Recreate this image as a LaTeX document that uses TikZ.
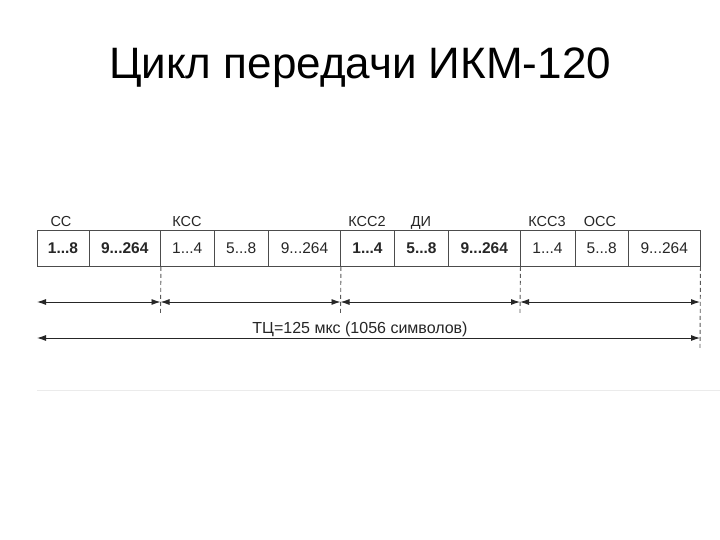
\documentclass[tikz,border=0pt]{standalone}
\usepackage{fontspec}
\setmainfont{Liberation Sans}
\usetikzlibrary{arrows.meta}
\begin{document}
\begin{tikzpicture}[x=1pt,y=-1pt,
  cell/.style={draw=black!70, line width=0.9pt, minimum height=36pt, inner sep=0pt, font=\fontsize{15.5}{17}\selectfont, text=black!85},
  lbl/.style={font=\fontsize{14.5}{16}\selectfont, text=black!85, inner sep=0pt, anchor=base},
  guide/.style={draw=black!65, dashed, dash pattern=on 4pt off 3pt, line width=0.9pt},
  span/.style={draw=black!85, line width=0.9pt, {Latex[length=9pt,width=6pt]}-{Latex[length=9pt,width=6pt]}},
  title/.style={font=\fontsize{44}{50}\selectfont, inner sep=0pt, anchor=base}]
\useasboundingbox (0,0) rectangle (720,540);
\fill[white] (0,0) rectangle (720,540);

\node[title] (t) at (360,79) {Цикл передачи ИКМ-120};

% cells (y from 230.5 to 266.5, centre 248.5)
\node[cell, minimum width=52pt]   (c1)  at (63,248.5)    {\textbf{1...8}};
\node[cell, minimum width=71.5pt] (c2)  at (124.75,248.5) {\textbf{9...264}};
\node[cell, minimum width=53.5pt] (c3)  at (187.25,248.5) {1...4};
\node[cell, minimum width=54.5pt] (c4)  at (241.25,248.5) {5...8};
\node[cell, minimum width=72pt]   (c5)  at (304.5,248.5)  {9...264};
\node[cell, minimum width=54pt]   (c6)  at (367.5,248.5)  {\textbf{1...4}};
\node[cell, minimum width=54pt]   (c7)  at (421.5,248.5)  {\textbf{5...8}};
\node[cell, minimum width=71.5pt] (c8)  at (484.25,248.5) {\textbf{9...264}};
\node[cell, minimum width=55pt]   (c9)  at (547.5,248.5)  {1...4};
\node[cell, minimum width=53.5pt] (c10) at (601.75,248.5) {5...8};
\node[cell, minimum width=71.5pt] (c11) at (664.25,248.5) {9...264};

% labels above
\node[lbl] (lcc)   at (61,226)  {СС};
\node[lbl] (lkcc)  at (187,226) {КСС};
\node[lbl] (lkcc2) at (367,226) {КСС2};
\node[lbl] (ldi)   at (421,226) {ДИ};
\node[lbl] (lkcc3) at (547,226) {КСС3};
\node[lbl] (locc)  at (600,226) {ОСС};

% boundary coordinates
\coordinate (g1) at (c2.south east);
\coordinate (g2) at (c5.south east);
\coordinate (g3) at (c8.south east);
\coordinate (g4) at (c11.south east);
\coordinate (g1e) at (160.5,313);
\coordinate (g2e) at (340.5,313);
\coordinate (g3e) at (520,313);
\coordinate (g4e) at (700,350);
\draw[guide] (g1) -- (g1e);
\draw[guide] (g2) -- (g2e);
\draw[guide] (g3) -- (g3e);
\draw[guide] (g4) -- (g4e);

% span arrows
\coordinate (a0) at (37,302);
\coordinate (a1) at (160.5,302);
\coordinate (a2) at (340.5,302);
\coordinate (a3) at (520,302);
\coordinate (a4) at (700,302);
\draw[span] (a0) -- (a1);
\draw[span] (a1) -- (a2);
\draw[span] (a2) -- (a3);
\draw[span] (a3) -- (a4);

\coordinate (b0) at (37,338);
\coordinate (b1) at (700,338);
\draw[span] (b0) -- (b1);
\node[lbl, font=\fontsize{16}{18}\selectfont] (tc) at (360,333) {ТЦ=125 мкс (1056 символов)};

% faint bottom edge of the scanned figure
\coordinate (e0) at (37,390);
\coordinate (e1) at (720,390);
\draw[black!8, line width=0.8pt] (e0) -- (e1);
\end{tikzpicture}
\end{document}
